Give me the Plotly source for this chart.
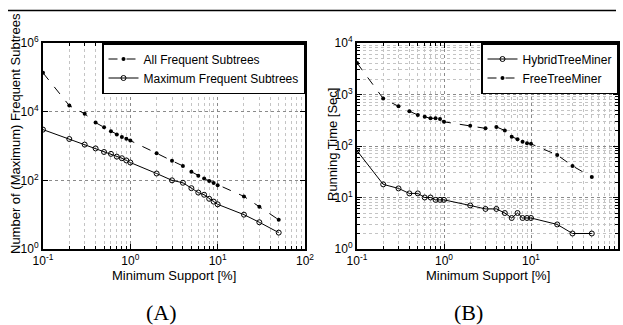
import plotly.graph_objects as go

# ---- data ----
support = [0.1, 0.2, 0.3, 0.4, 0.5, 0.6, 0.7, 0.8, 0.9, 1, 2, 3, 4, 5, 6, 7, 8, 9, 10, 20, 30, 50]

all_frequent = [135000, 15000, 8700, 4800, 3500, 2700, 2150, 1830, 1630, 1440,
                615, 370, 263, 178, 135, 113, 96, 84, 72, 34, 17, 7.1]
max_frequent = [3000, 1600, 1100, 850, 670, 590, 490, 440, 380, 330,
                158, 100, 85, 59, 44, 38, 29, 24, 20, 10, 6, 3]

hybrid_time = [81, 18, 15, 12, 12, 10, 10, 9, 9, 9,
               7, 6, 6, 5, 4, 5, 4, 4, 4, 3, 2, 2]
free_time = [4100, 835, 590, 475, 400, 370, 345, 345, 333, 295,
             248, 220, 235, 200, 152, 135, 121, 113, 110, 67, 41, 25]

x_tickvals = [0.1, 1, 10, 100]
x_ticktext = ["10<sup>-1</sup>", "10<sup>0</sup>", "10<sup>1</sup>", "10<sup>2</sup>"]
yA_tickvals = [1, 100, 1e4, 1e6]
yA_ticktext = ["10<sup>0</sup>", "10<sup>2</sup>", "10<sup>4</sup>", "10<sup>6</sup>"]
yB_tickvals = [1, 10, 100, 1000, 1e4]
yB_ticktext = ["10<sup>0</sup>", "10<sup>1</sup>", "10<sup>2</sup>", "10<sup>3</sup>", "10<sup>4</sup>"]

W, H = 623, 325
FONT = "Liberation Sans, Arial, sans-serif"
SERIF = "Liberation Serif, Times New Roman, serif"


def minor_vals(lo_exp, hi_exp):
    return [m * 10 ** e for e in range(lo_exp, hi_exp) for m in range(2, 10)]


def px_x(v):
    return v / W


def px_y(v):
    return 1 - v / H


fig = go.Figure()

fig.add_trace(go.Scatter(
    x=support, y=all_frequent, name="All Frequent Subtrees", mode="lines+markers",
    line=dict(color="black", width=1, dash="dash"),
    marker=dict(symbol="circle", size=4, color="black"),
    xaxis="x", yaxis="y", legend="legend"))
fig.add_trace(go.Scatter(
    x=support, y=max_frequent, name="Maximum Frequent Subtrees", mode="lines+markers",
    line=dict(color="black", width=1),
    marker=dict(symbol="circle-open", size=5, color="black", line=dict(width=1)),
    xaxis="x", yaxis="y", legend="legend"))

fig.add_trace(go.Scatter(
    x=support, y=hybrid_time, name="HybridTreeMiner", mode="lines+markers",
    line=dict(color="black", width=1),
    marker=dict(symbol="circle-open", size=5, color="black", line=dict(width=1)),
    xaxis="x2", yaxis="y2", legend="legend2"))
fig.add_trace(go.Scatter(
    x=support, y=free_time, name="FreeTreeMiner", mode="lines+markers",
    line=dict(color="black", width=1, dash="dash"),
    marker=dict(symbol="circle", size=4, color="black"),
    xaxis="x2", yaxis="y2", legend="legend2"))

axis_common = dict(
    type="log", showline=True, linecolor="black", linewidth=2, mirror="ticks",
    ticks="inside", ticklen=5, tickcolor="black", tickwidth=1, automargin=False,
    showgrid=True, gridcolor="#8a8a8a", griddash="dot", gridwidth=1,
    zeroline=False, tickfont=dict(family=FONT, size=12, color="black"),
)
minor_common = dict(ticks="inside", ticklen=3, tickcolor="black", showgrid=True,
                    gridcolor="#c4c4c4", griddash="dot", gridwidth=1)

yd = [px_y(249), px_y(43)]

fig.update_layout(
    width=W, height=H, margin=dict(l=0, r=0, t=0, b=0, autoexpand=False),
    paper_bgcolor="white", plot_bgcolor="white",
    font=dict(family=FONT, color="black"),
    xaxis=dict(axis_common, domain=[px_x(43), px_x(305)], range=[-1, 2], anchor="y",
               tickvals=x_tickvals, ticktext=x_ticktext,
               minor=dict(minor_common, tickvals=minor_vals(-1, 2))),
    yaxis=dict(axis_common, domain=yd, range=[0, 6], anchor="x",
               tickvals=yA_tickvals, ticktext=yA_ticktext),
    xaxis2=dict(axis_common, domain=[px_x(357), px_x(618)], range=[-1, 2], anchor="y2",
                tickvals=x_tickvals, ticktext=x_ticktext,
                minor=dict(minor_common, tickvals=minor_vals(-1, 2))),
    yaxis2=dict(axis_common, domain=yd, range=[0, 4], anchor="x2",
                tickvals=yB_tickvals, ticktext=yB_ticktext,
                minor=dict(minor_common, tickvals=minor_vals(0, 4))),
    legend=dict(x=px_x(305), y=px_y(43), xanchor="right", yanchor="top",
                bgcolor="white", bordercolor="black", borderwidth=1.5,
                font=dict(family=FONT, size=12, color="black"),
                tracegroupgap=0, itemwidth=30),
    legend2=dict(x=px_x(618), y=px_y(43), xanchor="right", yanchor="top",
                 bgcolor="white", bordercolor="black", borderwidth=1.5,
                 font=dict(family=FONT, size=12, color="black"),
                 tracegroupgap=0, itemwidth=30),
    showlegend=True,
)


def label(text, x, y, size, family=FONT, angle=0):
    fig.add_annotation(text=text, x=px_x(x), y=px_y(y), xref="paper", yref="paper",
                       xanchor="center", yanchor="middle", textangle=angle,
                       showarrow=False, font=dict(family=family, size=size, color="black"))


# axis titles
label("Minimum Support [%]", 174, 275, 13)
label("Minimum Support [%]", 488, 275, 13)
label("Number of (Maximum) Frequent Subtrees", 15, 134, 13, angle=-90)
label("Running Time [Sec]", 332, 145, 13, angle=-90)

# panel labels
label("(A)", 161, 312, 22, family=SERIF)
label("(B)", 469, 312, 22, family=SERIF)

# top rule
fig.add_shape(type="line", xref="paper", yref="paper", x0=px_x(8), x1=px_x(616),
              y0=px_y(10.5), y1=px_y(10.5), line=dict(color="black", width=1.5))

fig.write_html("out.html", config={"displayModeBar": False},
               post_script="document.body.style.margin='0';document.body.style.padding='0';")
